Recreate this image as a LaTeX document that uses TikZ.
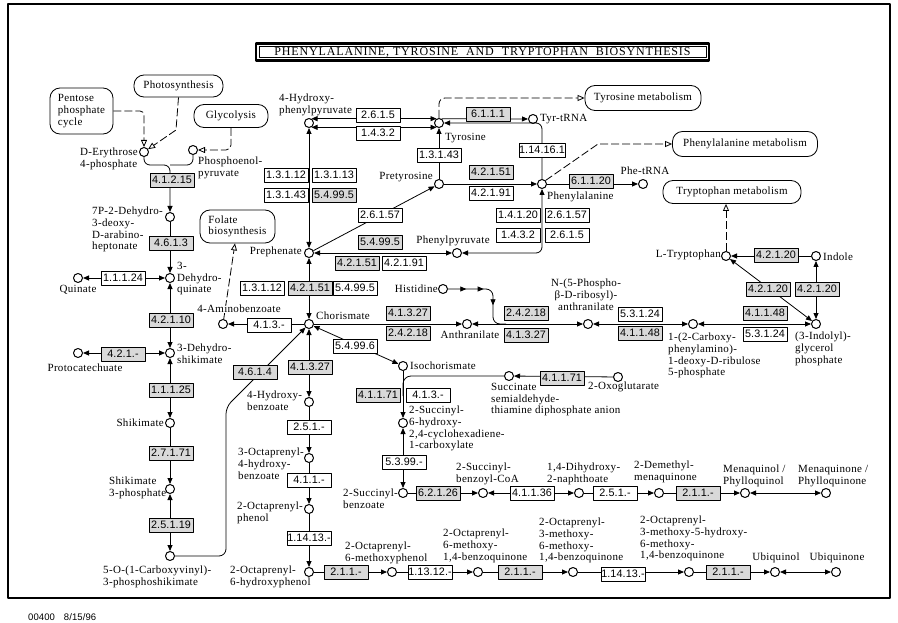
\documentclass[tikz,border=0pt]{standalone}
\usepackage{fontspec}
\newfontfamily\cpdfamily{Liberation Serif}[LetterSpace=3]
\newfontfamily\titlefamily{Liberation Serif}[LetterSpace=7]
\newfontfamily\enzfamily{Liberation Sans}[LetterSpace=1]
\usetikzlibrary{
arrows.meta,
decorations.markings,
positioning
}
\tikzset{>={Triangle[length=6pt,width=5pt]}}
\newcommand{\cpdfont}{\cpdfamily\fontsize{11}{11.6}\selectfont}
\newcommand{\enzfont}{\enzfamily\fontsize{10.8}{12}\selectfont}

\begin{document}
\begin{tikzpicture}[x=1pt, y=-1pt, line join=round,
		cpd/.style={circle, draw, line width=1pt, fill=white, minimum size=9pt, inner sep=0pt},
		enz/.style={draw, line width=0.8pt, fill=white, minimum width=44pt, minimum height=14pt, inner sep=0pt, font=\enzfont},
		genz/.style={enz, fill=black!15},
		lbl/.style={inner sep=0pt, font=\cpdfont, align=left},
		pmap/.style={draw, line width=0.8pt, rounded corners=10pt, fill=white, inner sep=2pt, font=\cpdfont},
		rxn/.style={line width=0.8pt},
		maplink/.style={line width=0.8pt, dash pattern=on 8pt off 3pt, -{Triangle[open,length=7pt,width=6pt]}}]
		\useasboundingbox (0,0) rectangle (898,623);
		\draw[line width=1.2pt] (8,4) rectangle (890,598);
		
		% title
		\node[draw, line width=0.7pt, text width=447pt, align=center, minimum height=11pt, inner sep=0pt, font=\titlefamily\fontsize{12}{14}\selectfont] (title) at (482.5,52) {PHENYLALANINE, TYROSINE\ \ AND\ \ TRYPTOPHAN\ \ BIOSYNTHESIS};
		\draw[line width=2.4pt] ([shift={(-2.6pt,-2.6pt)}]title.south west) rectangle ([shift={(2.6pt,2.6pt)}]title.north east);
		\node[anchor=west, inner sep=0pt, font=\enzfamily\fontsize{9.5}{10}\selectfont] (mapno) at (28,617) {00400\hspace{9pt}8/15/96};
		
		% pathway maps
		\node[pmap, minimum width=63pt, minimum height=46pt, align=left] (pentose) at (81.5,111) {Pentose\\phosphate\\cycle};
		\node[pmap, minimum width=89pt, minimum height=22pt] (photo) at (178.5,86) {Photosynthesis};
		\node[pmap, minimum width=74pt, minimum height=23pt] (glyc) at (231,116) {Glycolysis};
		\node[pmap, minimum width=75pt, minimum height=33pt, align=left] (folate) at (237.5,226.5) {Folate\\biosynthesis};
		\node[pmap, minimum width=116pt, minimum height=25pt] (tyrmet) at (643,98) {Tyrosine\ metabolism};
		\node[pmap, minimum width=145pt, minimum height=25pt] (phemet) at (745,144) {Phenylalanine metabolism};
		\node[pmap, minimum width=138pt, minimum height=23pt] (trpmet) at (732,192) {Tryptophan metabolism};
		
		% compounds
		\node[cpd] (ery) at (144,152) {};
		\node[cpd] (pep) at (193,150) {};
		\node[cpd] (dahp) at (170,217) {};
		\node[cpd] (dhq) at (170,278) {};
		\node[cpd] (quin) at (78,278) {};
		\node[cpd] (dhs) at (170,353) {};
		\node[cpd] (pcat) at (78,353) {};
		\node[cpd] (shik) at (170,423) {};
		\node[cpd] (s3p) at (170,489) {};
		\node[cpd] (epsp) at (170,556) {};
		\node[cpd] (hpp) at (309,123) {};
		\node[cpd] (tyr) at (439,123) {};
		\node[cpd] (tyrtrna) at (533,119) {};
		\node[cpd] (pretyr) at (439,184) {};
		\node[cpd] (phe) at (542,184) {};
		\node[cpd] (phetrna) at (643,184) {};
		\node[cpd] (phepyr) at (457,253) {};
		\node[cpd] (preph) at (309,253) {};
		\node[cpd] (chor) at (309,324) {};
		\node[cpd] (amben) at (223,324) {};
		\node[cpd] (anth) at (467,324) {};
		\node[cpd] (hist) at (443,289) {};
		\node[cpd] (prant) at (588,324) {};
		\node[cpd] (cpadr) at (693,324) {};
		\node[cpd] (igp) at (816,324) {};
		\node[cpd] (indole) at (816,256) {};
		\node[cpd] (trp) at (726,256) {};
		\node[cpd] (hbz) at (309,402) {};
		\node[cpd] (ophb) at (309,458) {};
		\node[cpd] (oppol) at (309,509) {};
		\node[cpd] (ophp) at (309,572) {};
		\node[cpd] (omp) at (392,572) {};
		\node[cpd] (omb) at (478,572) {};
		\node[cpd] (ommb) at (573,572) {};
		\node[cpd] (ohmmb) at (689,572) {};
		\node[cpd] (ubqol) at (775,572) {};
		\node[cpd] (ubq) at (836,572) {};
		\node[cpd] (isoch) at (403,366) {};
		\node[cpd] (sephchc) at (403,423) {};
		\node[cpd] (ssa) at (509,376) {};
		\node[cpd] (oxog) at (618,377) {};
		\node[cpd] (osb) at (403,493) {};
		\node[cpd] (osbcoa) at (483,493) {};
		\node[cpd] (dhna) at (579,493) {};
		\node[cpd] (dmk) at (659,493) {};
		\node[cpd] (mqol) at (745,493) {};
		\node[cpd] (mq) at (826,493) {};
		
		% compound names
		\node[lbl, anchor=north west] (eryt) at (80,148) {D-Erythrose\\4-phosphate};
		\node[lbl, anchor=north west] (pept) at (198,157) {Phosphoenol-\\pyruvate};
		\node[lbl, anchor=north west] (dahpt) at (92,207) {7P-2-Dehydro-\\3-deoxy-\\D-arabino-\\heptonate};
		\node[lbl, anchor=north west] (dhqt) at (177,262) {3-\\Dehydro-\\quinate};
		\node[lbl] (quint) at (78,290) {Quinate};
		\node[lbl, anchor=north west] (dhst) at (177,344) {3-Dehydro-\\shikimate};
		\node[lbl] (pcatt) at (85,368) {Protocatechuate};
		\node[lbl, anchor=east] (shikt) at (164,423) {Shikimate};
		\node[lbl, anchor=north west] (s3pt) at (109,477) {Shikimate\\3-phosphate};
		\node[lbl, anchor=north west] (epspt) at (103,566) {5-O-(1-Carboxyvinyl)-\\3-phosphoshikimate};
		\node[lbl, anchor=north west] (hppt) at (279,94) {4-Hydroxy-\\phenylpyruvate};
		\node[lbl, anchor=west] (tyrt) at (445,138) {Tyrosine};
		\node[lbl, anchor=west] (tyrtrnat) at (540,119) {Tyr-tRNA};
		\node[lbl, anchor=east] (pretyrt) at (433,177) {Pretyrosine};
		\node[lbl, anchor=west] (phet) at (547,197) {Phenylalanine};
		\node[lbl] (phetrnat) at (645,171) {Phe-tRNA};
		\node[lbl] (phepyrt) at (453,241) {Phenylpyruvate};
		\node[lbl, anchor=east] (prepht) at (302,252) {Prephenate};
		\node[lbl, anchor=west] (chort) at (316,316) {Chorismate};
		\node[lbl] (antht) at (470,335) {Anthranilate};
		\node[lbl, anchor=east] (histt) at (438,289) {Histidine};
		\node[lbl, anchor=north, align=center] (prantt) at (586,279) {N-(5-Phospho-\\β-D-ribosyl)-\\anthranilate};
		\node[lbl, anchor=north west] (cpadrt) at (668,333) {1-(2-Carboxy-\\phenylamino)-\\1-deoxy-D-ribulose\\5-phosphate};
		\node[lbl, anchor=north west] (igpt) at (795,332) {(3-Indolyl)-\\glycerol\\phosphate};
		\node[lbl, anchor=west] (indolet) at (823,257) {Indole};
		\node[lbl, anchor=east] (trpt) at (721,255) {L-Tryptophan};
		\node[lbl, anchor=west] (isocht) at (410,366) {Isochorismate};
		\node[lbl, anchor=north west] (sephchct) at (409,406) {2-Succinyl-\\6-hydroxy-\\2,4-cyclohexadiene-\\1-carboxylate};
		\node[lbl, anchor=north west] (ssat) at (491,383) {Succinate\\semialdehyde-\\thiamine diphosphate anion};
		\node[lbl, anchor=west] (oxogt) at (588,387) {2-Oxoglutarate};
		\node[lbl, anchor=north west] (hbzt) at (247,391) {4-Hydroxy-\\benzoate};
		\node[lbl, anchor=north west] (ophbt) at (238,448) {3-Octaprenyl-\\4-hydroxy-\\benzoate};
		\node[lbl, anchor=north west] (oppolt) at (237,502) {2-Octaprenyl-\\phenol};
		\node[lbl, anchor=north west] (ophpt) at (230,566) {2-Octaprenyl-\\6-hydroxyphenol};
		\node[lbl, anchor=north west] (ompt) at (345,542) {2-Octaprenyl-\\6-methoxyphenol};
		\node[lbl, anchor=north west] (ombt) at (443,529) {2-Octaprenyl-\\6-methoxy-\\1,4-benzoquinone};
		\node[lbl, anchor=north west] (ommbt) at (539,518) {2-Octaprenyl-\\3-methoxy-\\6-methoxy-\\1,4-benzoquinone};
		\node[lbl, anchor=north west] (ohmmbt) at (640,516) {2-Octaprenyl-\\3-methoxy-5-hydroxy-\\6-methoxy-\\1,4-benzoquinone};
		\node[lbl] (ubqolt) at (776,558) {Ubiquinol};
		\node[lbl] (ubqt) at (837,558) {Ubiquinone};
		\node[lbl, anchor=north west] (osbt) at (343,489) {2-Succinyl-\\benzoate};
		\node[lbl, anchor=north west] (osbcoat) at (456,463) {2-Succinyl-\\benzoyl-CoA};
		\node[lbl, anchor=north west] (dhnat) at (547,463) {1,4-Dihydroxy-\\2-naphthoate};
		\node[lbl, anchor=north west] (dmkt) at (634,461) {2-Demethyl-\\menaquinone};
		\node[lbl, anchor=north west] (mqolt) at (723,465) {Menaquinol /\\Phylloquinol};
		\node[lbl, anchor=north west] (mqt) at (798,465) {Menaquinone /\\Phylloquinone};
		
		% links to other maps
		\coordinate (photobend) at (176,130);
		\coordinate (phebend) at (598,144);
		\draw[maplink, rounded corners=4pt] (pentose.east) -| (ery);
		\draw[maplink] (photo.south) -- (photobend) -- (ery);
		\draw[maplink, rounded corners=5pt] (glyc.south) |- (pep);
		\draw[maplink] (amben) -- (folate);
		\draw[maplink, rounded corners=6pt] (tyr.north) |- (tyrmet.west);
		\draw[maplink] (phe.45) -- (phebend) -- (phemet.west);
		\draw[maplink] (trp) -- (trp |- trpmet.south);
		\node[lbl, fill=white] (ambent) at (239,309) {4-Aminobenzoate};
		
		% shikimate pathway
		\coordinate (erymerge) at (170,165);
		\draw[rxn, ->, rounded corners=6pt] (ery.south) |- (erymerge) -- (dahp);
		\draw[rxn, rounded corners=6pt] (pep.south) |- (erymerge);
		\draw[rxn, ->] (dahp) -- (dhq);
		\draw[rxn, <->] (quin) -- (dhq);
		\draw[rxn, <->] (dhq) -- (dhs);
		\draw[rxn, <->] (pcat) -- (dhs);
		\draw[rxn, <->] (dhs) -- (shik);
		\draw[rxn, ->] (shik) -- (s3p);
		\draw[rxn, <->] (s3p) -- (epsp);
		\draw[rxn, ->, rounded corners=7pt] (epsp) -- (226,556) -- (226,407) -- (chor);
		
		% chorismate branches
		\draw[rxn, ->] (chor) -- (amben);
		\draw[rxn, <->] (chor) -- (preph);
		\draw[rxn, <->] (preph) -- (hpp);
		\draw[rxn, <->] (hpp.60) -- (tyr.120);
		\draw[rxn, <->] (hpp.-60) -- (tyr.-120);
		\draw[rxn, ->] (tyr.60) -- (tyrtrna);
		\draw[rxn, ->] (pretyr) -- (tyr);
		\draw[rxn, ->] (preph) -- (pretyr);
		\draw[rxn, ->] (pretyr) -- (phe);
		\draw[rxn, ->] (phe) -- (phetrna);
		\draw[rxn, ->, rounded corners=6pt] (phe.north) |- (tyr.east);
		\draw[rxn, <->, rounded corners=6pt] (phe.south) |- (phepyr);
		\draw[rxn, <->] (preph) -- (phepyr);
		
		% tryptophan branch
		\draw[rxn, ->] (chor) -- (anth);
		\draw[rxn, <->] (anth) -- (prant);
		\draw[rxn, rounded corners=7pt, decoration={markings,
			mark=at position 0.21 with {\arrow{>}},
			mark=at position 0.41 with {\arrow{>}},
			mark=at position 0.67 with {\arrow{>}}}, postaction={decorate}]
			(hist) -- (493,289) -- (493,324) -- (506,324);
		\draw[rxn, <->] (prant) -- (cpadr);
		\draw[rxn, <->] (cpadr) -- (igp);
		\draw[rxn, <->] (igp) -- (indole);
		\draw[rxn, ->] (indole) -- (trp);
		\draw[rxn, <->] (igp) -- (trp);
		
		% ubiquinone and menaquinone
		\draw[rxn, <->] (chor) -- (hbz);
		\draw[rxn, ->] (hbz) -- (ophb);
		\draw[rxn, ->] (ophb) -- (oppol);
		\draw[rxn, ->] (oppol) -- (ophp);
		\draw[rxn, ->] (ophp) -- (omp);
		\draw[rxn, ->] (omp) -- (omb);
		\draw[rxn, ->] (omb) -- (ommb);
		\draw[rxn, ->] (ommb) -- (ohmmb);
		\draw[rxn, ->] (ohmmb) -- (ubqol);
		\draw[rxn, <->] (ubqol) -- (ubq);
		\draw[rxn, <->] (chor) -- (isoch);
		\draw[rxn, ->] (isoch) -- (sephchc);
		\draw[rxn, rounded corners=8pt] (ssa) -| (403,396);
		\draw[rxn, ->] (oxog) -- (ssa);
		\draw[rxn, <->] (sephchc) -- (osb);
		\draw[rxn, ->] (osb) -- (osbcoa);
		\draw[rxn, <->] (osbcoa) -- (dhna);
		\draw[rxn, ->] (dhna) -- (dmk);
		\draw[rxn, ->] (dmk) -- (mqol);
		\draw[rxn, <->] (mqol) -- (mq);
		
		% enzymes
		\node[genz] (e41215) at (172,180) {4.1.2.15};
		\node[genz] (e4613) at (171,243) {4.6.1.3};
		\node[enz] (e11124) at (123,278) {1.1.1.24};
		\node[genz] (e42110) at (171,320) {4.2.1.10};
		\node[genz] (e421x) at (123,354) {4.2.1.-};
		\node[genz] (e11125) at (171,390) {1.1.1.25};
		\node[genz] (e27171) at (171,453) {2.7.1.71};
		\node[genz] (e25119) at (171,525) {2.5.1.19};
		\node[genz] (e4614) at (255,372) {4.6.1.4};
		\node[enz] (e413xa) at (269,325) {4.1.3.-};
		\node[enz] (e13112a) at (262,288) {1.3.1.12};
		\node[genz] (e42151a) at (310,288) {4.2.1.51};
		\node[enz] (e54995a) at (355,288) {5.4.99.5};
		\node[genz] (e41327a) at (310,367) {4.1.3.27};
		\node[enz] (e54996) at (355,346) {5.4.99.6};
		\node[enz] (e13112b) at (286,175) {1.3.1.12};
		\node[enz] (e13113) at (334,175) {1.3.1.13};
		\node[enz] (e13143a) at (286,195) {1.3.1.43};
		\node[genz] (e54995b) at (334,195) {5.4.99.5};
		\node[enz] (e26157a) at (380,215) {2.6.1.57};
		\node[genz] (e54995c) at (380,242) {5.4.99.5};
		\node[genz] (e42151b) at (357,263) {4.2.1.51};
		\node[enz] (e42191a) at (404,263) {4.2.1.91};
		\node[enz] (e2615a) at (378,115) {2.6.1.5};
		\node[enz] (e1432a) at (378,133) {1.4.3.2};
		\node[genz] (e6111) at (488,114) {6.1.1.1};
		\node[enz] (e13143b) at (439,155) {1.3.1.43};
		\node[genz] (e42151c) at (491,172) {4.2.1.51};
		\node[enz] (e42191b) at (491,193) {4.2.1.91};
		\node[enz] (e114161) at (542,150) {1.14.16.1};
		\node[enz] (e14120) at (518,215) {1.4.1.20};
		\node[enz] (e26157b) at (567,215) {2.6.1.57};
		\node[enz] (e1432b) at (518,235) {1.4.3.2};
		\node[enz] (e2615b) at (567,235) {2.6.1.5};
		\node[genz] (e61120) at (591,181) {6.1.1.20};
		\node[genz] (e41327b) at (408,313) {4.1.3.27};
		\node[genz] (e24218a) at (408,333) {2.4.2.18};
		\node[genz] (e24218b) at (526,313) {2.4.2.18};
		\node[genz] (e41327c) at (526,335) {4.1.3.27};
		\node[enz] (e53124a) at (640,314) {5.3.1.24};
		\node[genz] (e41148a) at (640,333) {4.1.1.48};
		\node[genz] (e41148b) at (765,313) {4.1.1.48};
		\node[enz] (e53124b) at (765,334) {5.3.1.24};
		\node[genz] (e42120a) at (776,255) {4.2.1.20};
		\node[genz] (e42120b) at (768,289) {4.2.1.20};
		\node[genz] (e42120c) at (817,289) {4.2.1.20};
		\node[enz] (e251xa) at (309,427) {2.5.1.-};
		\node[enz] (e411x) at (309,480) {4.1.1.-};
		\node[enz] (e11413xa) at (309,538) {1.14.13.-};
		\node[genz] (e41171a) at (378,395) {4.1.1.71};
		\node[enz] (e413xb) at (428,395) {4.1.3.-};
		\node[genz] (e41171b) at (562,378) {4.1.1.71};
		\node[enz] (e5399x) at (404,462) {5.3.99.-};
		\node[genz] (e62126) at (438,493) {6.2.1.26};
		\node[enz] (e41136) at (532,493) {4.1.1.36};
		\node[enz] (e251xb) at (615,493) {2.5.1.-};
		\node[genz] (e211xa) at (698,493) {2.1.1.-};
		\node[genz] (e211xb) at (346,572) {2.1.1.-};
		\node[enz] (e11312x) at (430,572) {1.13.12.-};
		\node[genz] (e211xc) at (520,572) {2.1.1.-};
		\node[enz] (e11413xb) at (623,574) {1.14.13.-};
		\node[genz] (e211xd) at (728,572) {2.1.1.-};
	\end{tikzpicture}
\end{document}
